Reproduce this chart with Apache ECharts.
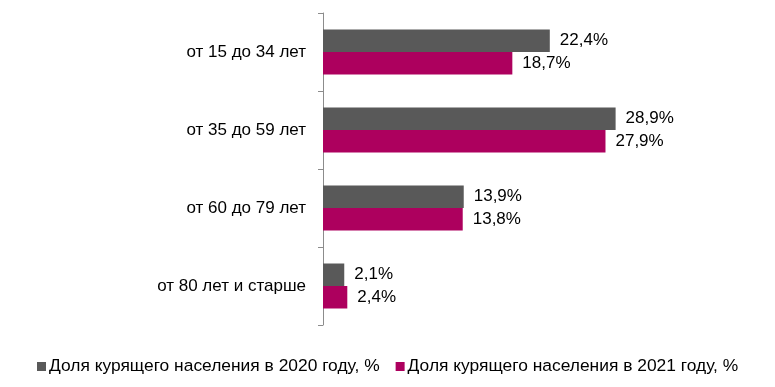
<!DOCTYPE html>
<html><head><meta charset="utf-8">
<script src="https://cdn.jsdelivr.net/npm/echarts@6/dist/echarts.min.js"></script>
<style>html,body{margin:0;padding:0;background:#fff}#c{width:775px;height:387px}</style>
</head><body><div id="c"></div>
<script>
const categories = ["от 15 до 34 лет", "от 35 до 59 лет", "от 60 до 79 лет", "от 80 лет и старше"];
const seriesNames = ["Доля курящего населения в 2020 году, %", "Доля курящего населения в 2021 году, %"];
const values2020 = [22.4, 28.9, 13.9, 2.1];
const values2021 = [18.7, 27.9, 13.8, 2.4];
const colors = ["#595959", "#AD005E"];

const chart = echarts.init(document.getElementById('c'));
const fmt = p => p.value.toFixed(1).replace('.', ',') + '%';
const mk = (name, data, color) => ({
  name, type: 'bar', data, barWidth: 22.5, barGap: '0%',
  itemStyle: { color },
  label: { show: true, position: 'right', distance: 10, formatter: fmt,
    fontFamily: 'Liberation Sans, Arial, sans-serif', fontSize: 17, color: '#000' }
});
chart.setOption({
  animation: false,
  textStyle: { fontFamily: 'Liberation Sans, Arial, sans-serif' },
  grid: { left: 323, top: 13, width: 405, height: 312, containLabel: false },
  xAxis: { type: 'value', min: 0, max: 40, show: false },
  yAxis: { type: 'category', data: categories, inverse: true,
    axisLine: { show: true, lineStyle: { color: '#8c8c8c', width: 1 } },
    axisTick: { show: true, length: 5, lineStyle: { color: '#8c8c8c' } },
    axisLabel: { fontSize: 17, color: '#000', margin: 17 } },
  legend: { top: 353, left: 32, itemWidth: 9, itemHeight: 9, itemGap: 16,
    icon: 'rect', textStyle: { fontSize: 17.4, color: '#000', padding: [0,0,0,-2] } },
  series: [mk(seriesNames[0], values2020, colors[0]), mk(seriesNames[1], values2021, colors[1])]
});
</script></body></html>
